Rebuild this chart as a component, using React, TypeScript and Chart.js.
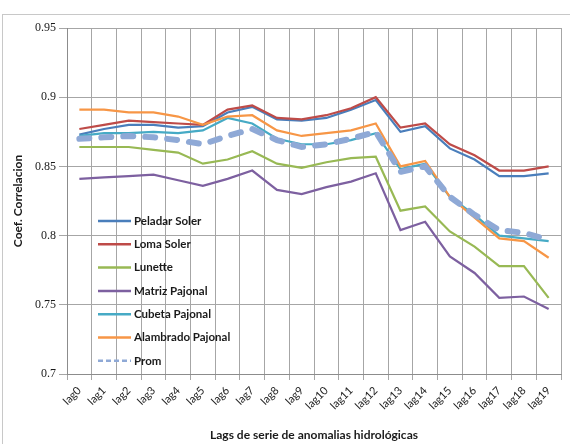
import React, { useEffect, useRef } from 'react';
import { Chart, registerables } from 'chart.js';

Chart.register(...registerables);

const categories = ['lag0','lag1','lag2','lag3','lag4','lag5','lag6','lag7','lag8','lag9','lag10','lag11','lag12','lag13','lag14','lag15','lag16','lag17','lag18','lag19'];

const peladarSoler = [0.873, 0.877, 0.880, 0.880, 0.878, 0.879, 0.889, 0.893, 0.884, 0.883, 0.885, 0.891, 0.898, 0.875, 0.879, 0.863, 0.855, 0.843, 0.843, 0.845];
const lomaSoler = [0.877, 0.880, 0.883, 0.882, 0.881, 0.880, 0.891, 0.894, 0.885, 0.884, 0.887, 0.892, 0.900, 0.878, 0.881, 0.866, 0.858, 0.847, 0.847, 0.850];
const lunette = [0.864, 0.864, 0.864, 0.862, 0.860, 0.852, 0.855, 0.861, 0.852, 0.849, 0.853, 0.856, 0.857, 0.818, 0.821, 0.803, 0.792, 0.778, 0.778, 0.755];
const matrizPajonal = [0.841, 0.842, 0.843, 0.844, 0.840, 0.836, 0.841, 0.847, 0.833, 0.830, 0.835, 0.839, 0.845, 0.804, 0.810, 0.785, 0.773, 0.755, 0.756, 0.747];
const cubetaPajonal = [0.872, 0.874, 0.874, 0.875, 0.874, 0.876, 0.885, 0.881, 0.870, 0.866, 0.866, 0.869, 0.874, 0.848, 0.852, 0.828, 0.815, 0.800, 0.798, 0.796];
const alambradoPajonal = [0.891, 0.891, 0.889, 0.889, 0.886, 0.880, 0.886, 0.887, 0.876, 0.872, 0.874, 0.876, 0.881, 0.850, 0.854, 0.828, 0.813, 0.798, 0.796, 0.784];
const prom = [0.870, 0.871, 0.872, 0.871, 0.869, 0.866, 0.872, 0.877, 0.869, 0.864, 0.866, 0.870, 0.875, 0.846, 0.850, 0.828, 0.815, 0.804, 0.802, 0.797];

const yMin = 0.7;
const yMax = 0.95;
const yStep = 0.05;

const xTitle = 'Lags de serie de anomalias hidrológicas';
const yTitle = 'Coef. Correlacion';

export default function App() {
  const ref = useRef<HTMLCanvasElement>(null);

  useEffect(() => {
    document.body.style.margin = '0';
    if (!ref.current) return;

    const legendPlugin = {
      id: 'insideLegend',
      afterDatasetsDraw(chart: any) {
        const ctx = chart.ctx;
        const area = chart.chartArea;
        ctx.save();
        const x0 = area.left + 31;
        const x1 = area.left + 64;
        const tx = area.left + 67;
        let y = area.top + 193;
        chart.data.datasets.forEach((ds: any) => {
          ctx.beginPath();
          ctx.strokeStyle = ds.label === 'Prom' ? '#8fa9d6' : ds.borderColor;
          ctx.lineWidth = 2.5;
          ctx.setLineDash(ds.label === 'Prom' ? [5, 3] : []);
          ctx.moveTo(x0, y);
          ctx.lineTo(x1, y);
          ctx.stroke();
          ctx.setLineDash([]);
          ctx.fillStyle = '#1a1a1a';
          ctx.font = 'bold 11.5px Lato';
          ctx.textBaseline = 'middle';
          ctx.textAlign = 'left';
          ctx.fillText(ds.label, tx, y);
          y += 23.3;
        });
        ctx.restore();
      },
    };

    const base = { borderWidth: 2.2, pointRadius: 0, tension: 0, fill: false };

    const chart = new Chart(ref.current, {
      type: 'line',
      data: {
        labels: categories,
        datasets: [
          { ...base, label: 'Peladar Soler', data: peladarSoler, borderColor: '#4a7ebb', order: 7 },
          { ...base, label: 'Loma Soler', data: lomaSoler, borderColor: '#be4b48', order: 6 },
          { ...base, label: 'Lunette', data: lunette, borderColor: '#98b954', order: 5 },
          { ...base, label: 'Matriz Pajonal', data: matrizPajonal, borderColor: '#7d60a0', order: 4 },
          { ...base, label: 'Cubeta Pajonal', data: cubetaPajonal, borderColor: '#46aac5', order: 3 },
          { ...base, label: 'Alambrado Pajonal', data: alambradoPajonal, borderColor: '#f79646', order: 2 },
          { ...base, label: 'Prom', data: prom, borderColor: '#8fa9d6', borderWidth: 6, borderDash: [10, 12], borderCapStyle: 'round', order: 1 },
        ],
      },
      options: {
        animation: false,
        responsive: false,
        layout: { padding: { left: 7, top: 28, right: 9, bottom: 0 } },
        plugins: { legend: { display: false }, tooltip: { enabled: false } },
        scales: {
          x: {
            type: 'category',
            offset: true,
            grid: { offset: true, color: '#a6a6a6', lineWidth: 1, tickLength: 6, drawTicks: true },
            border: { color: '#8c8c8c' },
            ticks: {
              autoSkip: false,
              minRotation: 45,
              maxRotation: 45,
              padding: 4,
              color: '#222',
              font: { family: 'Lato', size: 11 },
            },
            title: {
              display: true,
              text: xTitle,
              color: '#1a1a1a',
              font: { family: 'Lato', size: 12, weight: 'bold' },
              padding: { top: 2, bottom: 2 },
            },
            afterFit(s: any) { s.height = 70; },
          },
          y: {
            min: yMin,
            max: yMax,
            grid: { color: '#a6a6a6', lineWidth: 1, tickLength: 8 },
            border: { color: '#8c8c8c' },
            ticks: {
              stepSize: yStep,
              padding: 3,
              color: '#1a1a1a',
              font: { family: 'Liberation Serif', size: 12 },
              callback: (v: any) => String(Number(Number(v).toFixed(2))),
            },
            title: {
              display: true,
              text: yTitle,
              color: '#1a1a1a',
              font: { family: 'Lato', size: 12, weight: 'bold' },
              padding: { top: 4, bottom: 4 },
            },
            afterFit(s: any) { s.width = 60; },
          },
        },
      },
      plugins: [legendPlugin],
    } as any);

    return () => chart.destroy();
  }, []);

  return (
    <div style={{ position: 'relative', width: 570, height: 444, overflow: 'hidden', background: '#fff' }}>
      <div style={{ position: 'absolute', left: 2, top: 14, width: 600, height: 500, border: '1px solid #c8c8c8', pointerEvents: 'none' }} />
      <canvas ref={ref} width={570} height={444} style={{ position: 'absolute', left: 0, top: 0, display: 'block' }} />
    </div>
  );
}
